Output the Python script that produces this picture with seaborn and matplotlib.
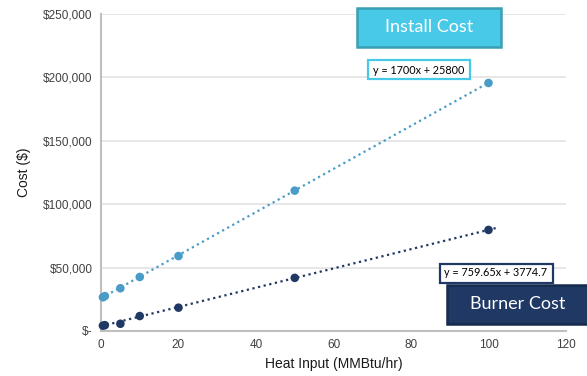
import numpy as np
import pandas as pd
import matplotlib
matplotlib.use("Agg")
import matplotlib.pyplot as plt
import seaborn as sns
from matplotlib.patches import Rectangle

# Heat input levels (MMBtu/hr) and cost of each configuration ($)
heat_input = [0.5, 1, 5, 10, 20, 50, 100]
install_cost = [26600, 27500, 33700, 42600, 59100, 110700, 195600]
burner_cost = [4200, 4600, 5700, 11800, 18400, 41900, 79700]

# Linear trendline coefficients
install_slope, install_intercept = 1700, 25800
burner_slope, burner_intercept = 759.65, 3774.7

y_ticks = [0, 50000, 100000, 150000, 200000, 250000]
y_tick_labels = ["$-", "$50,000", "$100,000", "$150,000", "$200,000", "$250,000"]
x_ticks = [0, 20, 40, 60, 80, 100, 120]

LIGHT = "#4A9CC8"
NAVY = "#1F3864"
CYAN = "#48C9E8"

sns.set_theme(style="white")
plt.rcParams["font.family"] = ["Liberation Sans", "DejaVu Sans"]

W, H = 587, 376
fig = plt.figure(figsize=(W / 100, H / 100), dpi=100)
ax = fig.add_axes([101 / W, 1 - 331 / H, (566 - 101) / W, (331 - 14) / H])

df = pd.DataFrame({
    "Heat Input": heat_input * 2,
    "Cost": install_cost + burner_cost,
    "Series": ["Install Cost"] * len(heat_input) + ["Burner Cost"] * len(heat_input),
})

# Dotted linear trendlines
xi = np.array([0, 100])
xb = np.array([0, 102])
trend = pd.DataFrame({
    "x": np.concatenate([xi, xb]),
    "y": np.concatenate([install_slope * xi + install_intercept,
                         burner_slope * xb + burner_intercept]),
    "Series": ["Install Cost"] * 2 + ["Burner Cost"] * 2,
})
sns.lineplot(data=trend, x="x", y="y", hue="Series",
             palette={"Install Cost": LIGHT, "Burner Cost": NAVY},
             linestyle=(0, (1, 1.6)), linewidth=1.6, legend=False, ax=ax, zorder=2)

sns.scatterplot(data=df, x="Heat Input", y="Cost", hue="Series",
                palette={"Install Cost": LIGHT, "Burner Cost": NAVY},
                s=38, edgecolor="none", legend=False, ax=ax, zorder=3, clip_on=False)

ax.set_xlim(0, 120)
ax.set_ylim(0, 250000)
ax.set_xticks(x_ticks)
ax.set_yticks(y_ticks)
ax.set_yticklabels(y_tick_labels)
ax.tick_params(axis="both", labelsize=8.5, colors="#404040", length=0, pad=6)
ax.yaxis.grid(True, color="#E3E3E3", linewidth=1.2)
ax.xaxis.grid(False)
for side in ["top", "right"]:
    ax.spines[side].set_visible(False)
for side in ["left", "bottom"]:
    ax.spines[side].set_color("#BFBFBF")
    ax.spines[side].set_linewidth(1.5)
ax.set_xlabel("Heat Input (MMBtu/hr)", fontsize=10, color="#1a1a1a", labelpad=4)
ax.set_ylabel("Cost ($)", fontsize=10, color="#1a1a1a", labelpad=9)


def px_box(x0, y0, x1, y1, face, edge, lw):
    fig.patches.append(Rectangle((x0 / W, 1 - y1 / H), (x1 - x0) / W, (y1 - y0) / H,
                                 transform=fig.transFigure, facecolor=face,
                                 edgecolor=edge, linewidth=lw, zorder=5))


def px_text(x, y, s, **kw):
    fig.text(x / W, 1 - y / H, s, ha="center", va="center", zorder=6, **kw)


# Series title boxes
px_box(357, 8, 501, 47, CYAN, "#3A9FB5", 1.8)
px_text(429, 27, "Install Cost", fontsize=13, color="white", family=["Lato", "DejaVu Sans"])
px_box(447, 285, 590, 324, NAVY, "#162a4d", 1.8)
px_text(518, 304, "Burner Cost", fontsize=13, color="white", family=["Lato", "DejaVu Sans"])

# Trendline equations
px_box(368, 60, 470, 79, "white", CYAN, 1.6)
px_text(419, 70, f"y = {install_slope}x + {install_intercept}", fontsize=7.8,
        color="black", family=["Lato", "DejaVu Sans"])
px_box(440, 264, 553, 283, "white", NAVY, 1.6)
px_text(496, 273, f"y = {burner_slope}x + {burner_intercept}", fontsize=7.8,
        color="black", family=["Lato", "DejaVu Sans"])

fig.savefig("out.png", dpi=100)
